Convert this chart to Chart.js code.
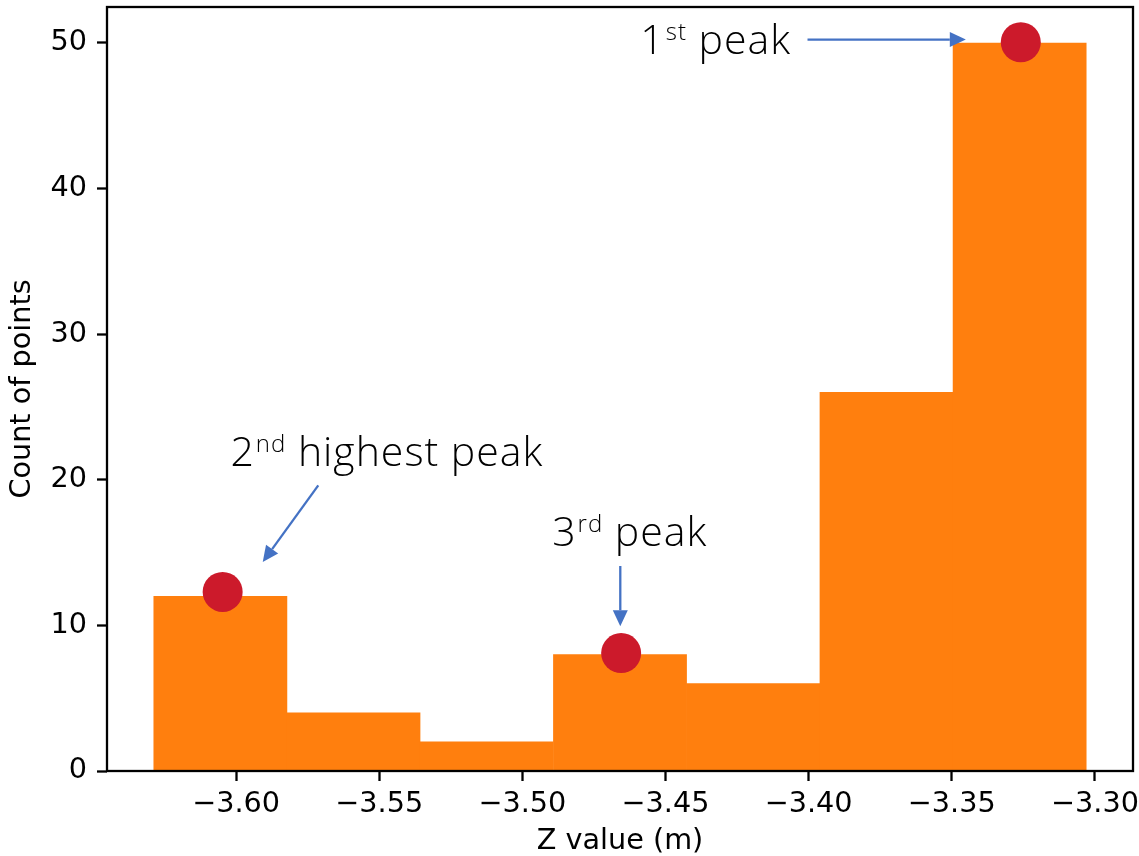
<!DOCTYPE html>
<html><head><meta charset="utf-8">
<script src="https://cdn.jsdelivr.net/npm/chart.js@4.4.1/dist/chart.umd.min.js"></script>
<style>html,body{margin:0;padding:0;background:#fff}#wrap{width:1139px;height:856px}</style>
</head><body><div id="wrap"><canvas id="c" width="1139" height="856"></canvas></div>
<script>
// ---- data ----
const binCenters = [-3.6055, -3.5590, -3.5125, -3.4659, -3.4194, -3.3728, -3.3263];
const binCounts  = [12, 4, 2, 8, 6, 26, 50];
const peakX = [-3.6047, -3.4655, -3.3259];
const peakY = [12.3, 8.1, 50.05];
const xTicks = [-3.60, -3.55, -3.50, -3.45, -3.40, -3.35, -3.30];
const yTicks = [0, 10, 20, 30, 40, 50];
const xLabel = 'Z value (m)';
const yLabel = 'Count of points';
// annotations (data coordinates)
const annoMain = ['1', '2', '3'];
const annoSup  = ['st', 'nd', 'rd'];
const annoRest = [' peak', ' highest peak', ' peak'];
const annoTextX = [-3.4588, -3.6020, -3.4896];
const annoTextY = [49.22, 20.95, 15.45];
const arrowFromX = [-3.4004, -3.5713, -3.4658];
const arrowFromY = [50.23, 19.62, 14.08];
const arrowToX   = [-3.3451, -3.5907, -3.4658];
const arrowToY   = [50.23, 14.35, 9.94];

const X_MIN = -3.6451, X_MAX = -3.2867, Y_MIN = 0, Y_MAX = 52.47;
const fmt = v => (v < 0 ? '\u2212' : '') + Math.abs(v).toFixed(2);
const AX = '#000';
const TICKFONT = {family: '"DejaVu Sans"', size: 28.7};
const ANNO_FAMILY = '"Open Sans"';

function drawArrow(ctx, x1, y1, x2, y2) {
  const ang = Math.atan2(y2 - y1, x2 - x1);
  const hl = 16, hw = 7.5;
  const bx = x2 - hl * Math.cos(ang), by = y2 - hl * Math.sin(ang);
  ctx.strokeStyle = '#4472C4'; ctx.fillStyle = '#4472C4'; ctx.lineWidth = 2.3;
  ctx.beginPath(); ctx.moveTo(x1, y1); ctx.lineTo(bx, by); ctx.stroke();
  ctx.beginPath();
  ctx.moveTo(x2, y2);
  ctx.lineTo(bx + hw * Math.sin(ang), by - hw * Math.cos(ang));
  ctx.lineTo(bx - hw * Math.sin(ang), by + hw * Math.cos(ang));
  ctx.closePath(); ctx.fill();
}

const annoPlugin = {
  id: 'anno',
  afterDatasetsDraw(chart) {
    const {ctx, chartArea: a, scales: {x, y}} = chart;
    ctx.save();
    ctx.strokeStyle = AX; ctx.lineWidth = 2.3;
    ctx.strokeRect(a.left, a.top, a.right - a.left, a.bottom - a.top);
    for (let i = 0; i < annoMain.length; i++) {
      drawArrow(ctx, x.getPixelForValue(arrowFromX[i]), y.getPixelForValue(arrowFromY[i]),
                     x.getPixelForValue(arrowToX[i]),   y.getPixelForValue(arrowToY[i]));
      let tx = x.getPixelForValue(annoTextX[i]);
      const ty = y.getPixelForValue(annoTextY[i]);
      ctx.fillStyle = '#000'; ctx.textBaseline = 'alphabetic'; ctx.textAlign = 'left';
      ctx.letterSpacing = '1px';
      ctx.font = '300 41px ' + ANNO_FAMILY;
      ctx.fillText(annoMain[i], tx, ty); tx += ctx.measureText(annoMain[i]).width + 1;
      ctx.font = '300 24px ' + ANNO_FAMILY;
      ctx.fillText(annoSup[i], tx, ty - 14); tx += ctx.measureText(annoSup[i]).width;
      ctx.font = '300 41px ' + ANNO_FAMILY;
      ctx.fillText(annoRest[i], tx, ty);
    }
    ctx.restore();
  }
};

const noPad = s => { s.paddingLeft = 0; s.paddingRight = 0; s.paddingTop = 0; s.paddingBottom = 0; };

function build() {
  new Chart(document.getElementById('c'), {
    type: 'bar',
    data: {
      datasets: [
        {type: 'scatter', data: peakX.map((v, i) => ({x: v, y: peakY[i]})),
         pointRadius: 20, pointHoverRadius: 20, backgroundColor: '#CC1A2B', borderWidth: 0, order: 0},
        {type: 'bar', data: binCenters.map((v, i) => ({x: v, y: binCounts[i]})),
         backgroundColor: '#FF7F0E', borderWidth: 0, barPercentage: 1, categoryPercentage: 1, order: 1}
      ]
    },
    options: {
      responsive: false, animation: false, devicePixelRatio: 1,
      layout: {autoPadding: false, padding: {top: 7, right: 6, left: 0, bottom: 0}},
      plugins: {legend: {display: false}, tooltip: {enabled: false}},
      scales: {
        x: {
          type: 'linear', min: X_MIN, max: X_MAX, offset: false,
          afterBuildTicks: s => { s.ticks = xTicks.map(v => ({value: v})); },
          afterFit: s => { s.height = 85; noPad(s); },
          grid: {display: true, drawOnChartArea: false, drawTicks: true, tickLength: 10, tickWidth: 2.3, tickColor: AX, offset: false},
          border: {display: false},
          ticks: {callback: v => fmt(v), font: TICKFONT, color: '#000', padding: 6, maxRotation: 0, autoSkip: false},
          title: {display: true, text: xLabel, font: {family: '"DejaVu Sans"', size: 28.7, lineHeight: 1}, color: '#000', padding: {top: 0, bottom: 0}}
        },
        y: {
          min: Y_MIN, max: Y_MAX,
          afterBuildTicks: s => { s.ticks = yTicks.map(v => ({value: v})); },
          afterFit: s => { s.width = 107; noPad(s); },
          grid: {display: true, drawOnChartArea: false, drawTicks: true, tickLength: 10, tickWidth: 2.3, tickColor: AX},
          border: {display: false},
          ticks: {callback: v => String(v), font: TICKFONT, color: '#000', padding: 10},
          title: {display: true, text: yLabel, font: {family: '"DejaVu Sans"', size: 28.7, lineHeight: 1}, color: '#000', padding: {top: 8, bottom: 0}}
        }
      }
    },
    plugins: [annoPlugin]
  });
}
Promise.all([
  document.fonts.load('300 41px ' + ANNO_FAMILY),
  document.fonts.load('28.7px "DejaVu Sans"')
]).then(build, build);
</script></body></html>
